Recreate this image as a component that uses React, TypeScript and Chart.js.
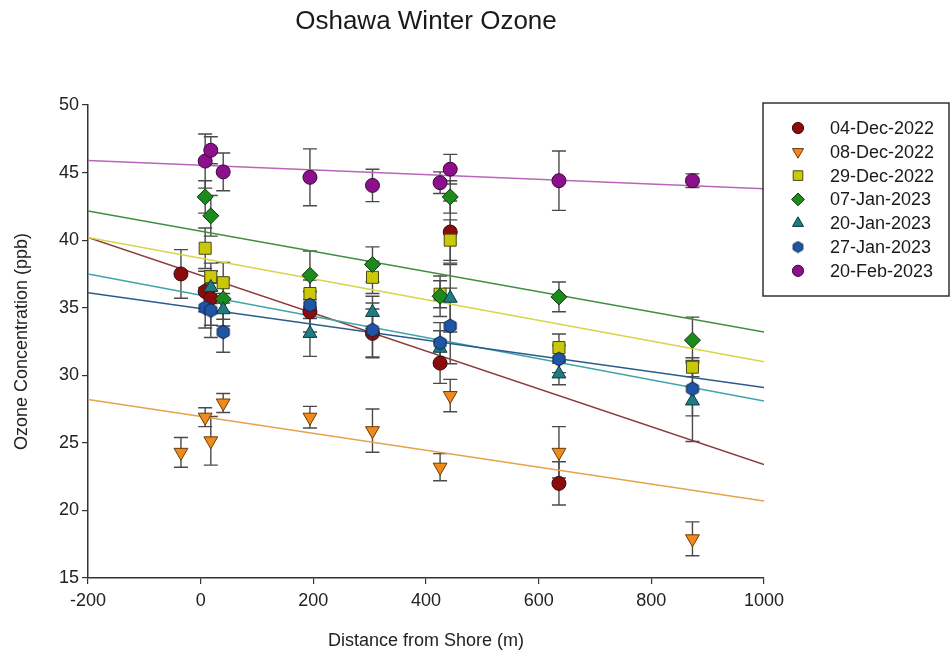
import React, { useEffect, useRef } from "react";
import { Chart, registerables } from "chart.js";
import { drawPoint } from "chart.js/helpers";

Chart.register(...registerables);

const FONT = "'Liberation Sans', Arial, Helvetica, sans-serif";

const chartTitle = "Oshawa Winter Ozone";
const xAxisTitle = "Distance from Shore (m)";
const yAxisTitle = "Ozone Concentration (ppb)";

const seriesLabels = [
  "04-Dec-2022",
  "08-Dec-2022",
  "29-Dec-2022",
  "07-Jan-2023",
  "20-Jan-2023",
  "27-Jan-2023",
  "20-Feb-2023",
];

// 04-Dec-2022
const dec04X = [-35, 8, 18, 194, 305, 425, 443, 636];
const dec04Y = [37.5, 36.2, 35.7, 34.7, 33.1, 30.9, 40.6, 22.0];
const dec04Err = [1.8, 1.5, 2.0, 1.5, 1.8, 1.5, 2.3, 1.6];

// 08-Dec-2022
const dec08X = [-35, 8, 18, 40, 194, 305, 425, 443, 636, 873];
const dec08Y = [24.3, 26.9, 25.15, 27.95, 26.9, 25.9, 23.2, 28.5, 24.3, 17.9];
const dec08Err = [1.1, 0.7, 1.8, 0.7, 0.8, 1.6, 1.0, 1.2, 1.9, 1.25];

// 29-Dec-2022
const dec29X = [8, 18, 40, 194, 305, 425, 443, 636, 873];
const dec29Y = [39.4, 37.3, 36.85, 36.05, 37.25, 36.0, 40.0, 32.05, 30.6];
const dec29Err = [1.5, 1.0, 1.5, 1.0, 1.2, 1.0, 1.5, 1.0, 0.7];

// 07-Jan-2023
const jan07X = [8, 18, 40, 194, 305, 425, 443, 636, 873];
const jan07Y = [43.2, 41.8, 35.65, 37.4, 38.2, 35.85, 43.2, 35.8, 32.6];
const jan07Err = [1.2, 1.5, 1.5, 1.8, 1.3, 1.5, 1.2, 1.1, 1.7];

// 20-Jan-2023
const jan20X = [18, 40, 194, 305, 425, 443, 636, 873];
const jan20Y = [36.5, 34.85, 33.1, 34.65, 32.0, 35.7, 30.1, 28.1];
const jan20Err = [1.2, 1.2, 1.7, 1.2, 1.3, 2.5, 0.8, 3.0];

// 27-Jan-2023
const jan27X = [8, 18, 40, 194, 305, 425, 443, 636, 873];
const jan27Y = [35.0, 34.8, 33.2, 35.2, 33.35, 32.4, 33.65, 31.2, 29.0];
const jan27Err = [1.5, 2.0, 1.5, 1.0, 2.0, 1.5, 2.8, 1.0, 2.0];

// 20-Feb-2023
const feb20X = [8, 18, 40, 194, 305, 425, 443, 636, 873];
const feb20Y = [45.85, 46.65, 45.05, 44.65, 44.05, 44.25, 45.25, 44.4, 44.4];
const feb20Err = [2.0, 1.0, 1.4, 2.1, 1.2, 0.8, 1.1, 2.2, 0.5];

// Linear trend lines (value at x = -200 and x = 1000)
const trendX = [-200, 1000];
const trendStart = [40.2, 28.2, 40.2, 42.15, 37.5, 36.1, 45.9];
const trendEnd = [23.4, 20.7, 31.0, 33.2, 28.1, 29.1, 43.8];

const xTicks = [-200, 0, 200, 400, 600, 800, 1000];
const yTicks = [15, 20, 25, 30, 35, 40, 45, 50];

const allX = [dec04X, dec08X, dec29X, jan07X, jan20X, jan27X, feb20X];
const allY = [dec04Y, dec08Y, dec29Y, jan07Y, jan20Y, jan27Y, feb20Y];
const allErr = [dec04Err, dec08Err, dec29Err, jan07Err, jan20Err, jan27Err, feb20Err];

const fillColors = ["#8a0c0c", "#f08a1c", "#c9c90a", "#1d8a1d", "#1f7c82", "#1f55a3", "#8c0f8c"];
const borderColors = ["#3a0a0a", "#6a3a08", "#4a4a10", "#0d3a0d", "#0d3a3e", "#0e2650", "#3a073a"];
const lineColors = ["#8e3b3b", "#e6a24c", "#d6d648", "#3f8f3f", "#3fa3aa", "#2c5a8c", "#b866b8"];
const pointStyles = ["circle", "triangle", "rect", "rectRot", "triangle", "hex", "circle"];
const pointRotations = [0, 180, 0, 0, 0, 0, 0];
const pointRadii = [7, 8, 8.5, 8, 8, 7, 7];

function makeHex(size: number, fill: string, stroke: string) {
  const c = document.createElement("canvas");
  c.width = size;
  c.height = size;
  const g = c.getContext("2d")!;
  const r = size / 2 - 1;
  g.beginPath();
  for (let k = 0; k < 6; k++) {
    const a = (Math.PI / 3) * k + Math.PI / 6;
    const px = size / 2 + r * Math.cos(a);
    const py = size / 2 + r * Math.sin(a);
    if (k === 0) g.moveTo(px, py);
    else g.lineTo(px, py);
  }
  g.closePath();
  g.fillStyle = fill;
  g.fill();
  g.strokeStyle = stroke;
  g.lineWidth = 1;
  g.stroke();
  return c;
}

const errorBarPlugin = {
  id: "errorBars",
  beforeDatasetsDraw(chart: any) {
    const ctx = chart.ctx;
    const xs = chart.scales.x;
    const ys = chart.scales.y;
    ctx.save();
    ctx.strokeStyle = "#4a4a4a";
    ctx.lineWidth = 1.4;
    chart.data.datasets.forEach((ds: any) => {
      if (!ds.errors) return;
      ds.data.forEach((p: any, j: number) => {
        const e = ds.errors[j];
        const px = xs.getPixelForValue(p.x);
        const top = ys.getPixelForValue(p.y + e);
        const bot = ys.getPixelForValue(p.y - e);
        ctx.beginPath();
        ctx.moveTo(px, top);
        ctx.lineTo(px, bot);
        ctx.moveTo(px - 7, top);
        ctx.lineTo(px + 7, top);
        ctx.moveTo(px - 7, bot);
        ctx.lineTo(px + 7, bot);
        ctx.stroke();
      });
    });
    ctx.restore();
  },
};

const titleLegendPlugin = {
  id: "titleLegend",
  afterDraw(chart: any) {
    const ctx = chart.ctx;
    const area = chart.chartArea;
    ctx.save();
    // title
    ctx.fillStyle = "#1a1a1a";
    ctx.font = `26px ${FONT}`;
    ctx.textAlign = "center";
    ctx.textBaseline = "middle";
    ctx.fillText(chartTitle, (area.left + area.right) / 2, 22);

    // legend box
    const bx = 763, by = 103, bw = 186, bh = 193;
    ctx.strokeStyle = "#333";
    ctx.lineWidth = 1.5;
    ctx.strokeRect(bx, by, bw, bh);
    ctx.font = `18px ${FONT}`;
    ctx.textAlign = "left";
    ctx.textBaseline = "middle";
    const scatterSets = chart.data.datasets.filter((d: any) => d.errors);
    scatterSets.forEach((ds: any, i: number) => {
      const cy = 128 + i * 23.8;
      ctx.fillStyle = ds.backgroundColor;
      ctx.strokeStyle = ds.borderColor;
      ctx.lineWidth = 1;
      drawPoint(
        ctx,
        {
          pointStyle: ds.legendStyle,
          rotation: ds.pointRotation,
          radius: ds.pointRadius * 0.8,
          borderWidth: 1,
        },
        798,
        cy
      );
      ctx.fillStyle = "#1a1a1a";
      ctx.fillText(ds.label, 830, cy + 1);
    });
    ctx.restore();
  },
};

export default function App() {
  const canvasRef = useRef<HTMLCanvasElement | null>(null);

  useEffect(() => {
    if (!canvasRef.current) return;

    const datasets: any[] = [];
    // trend lines (drawn underneath)
    seriesLabels.forEach((lab, i) => {
      datasets.push({
        type: "line",
        label: lab + " trend",
        data: [
          { x: trendX[0], y: trendStart[i] },
          { x: trendX[1], y: trendEnd[i] },
        ],
        borderColor: lineColors[i],
        borderWidth: 1.5,
        pointRadius: 0,
        fill: false,
        order: 1000 - i,
      });
    });
    seriesLabels.forEach((lab, i) => {
      const style =
        pointStyles[i] === "hex"
          ? makeHex(16, fillColors[i], borderColors[i])
          : pointStyles[i];
      const legendStyle =
        pointStyles[i] === "hex"
          ? makeHex(13, fillColors[i], borderColors[i])
          : pointStyles[i];
      datasets.push({
        type: "scatter",
        label: lab,
        data: allX[i].map((x, j) => ({ x, y: allY[i][j] })),
        errors: allErr[i],
        backgroundColor: fillColors[i],
        borderColor: borderColors[i],
        borderWidth: 1,
        pointStyle: style,
        legendStyle,
        pointRotation: pointRotations[i],
        pointRadius: pointRadii[i],
        pointHoverRadius: pointRadii[i],
        order: 100 - i,
      });
    });

    const chart = new Chart(canvasRef.current, {
      type: "scatter",
      data: { datasets },
      options: {
        animation: false,
        responsive: true,
        maintainAspectRatio: false,
        layout: { padding: { left: 0, top: 105, right: 188, bottom: 0 } },
        plugins: {
          legend: { display: false },
          title: { display: false },
          tooltip: { enabled: false },
        },
        scales: {
          x: {
            type: "linear",
            min: -200,
            max: 1000,
            afterFit: (s: any) => {
              s.height = 80;
            },
            afterBuildTicks: (s: any) => {
              s.ticks = xTicks.map((v) => ({ value: v }));
            },
            grid: {
              display: true,
              drawOnChartArea: false,
              drawTicks: true,
              tickLength: 6,
              color: "#333",
              lineWidth: 1.2,
            },
            border: { display: true, color: "#333", width: 1.5 },
            ticks: {
              color: "#222",
              font: { family: FONT, size: 18 },
              padding: 6,
              maxRotation: 0,
              callback: (v: any) => String(v),
            },
            title: {
              display: true,
              text: xAxisTitle,
              color: "#222",
              font: { family: FONT, size: 18 },
              padding: { top: 6, bottom: 6 },
            },
          },
          y: {
            type: "linear",
            min: 15,
            max: 50,
            afterFit: (s: any) => {
              s.width = 88;
            },
            afterBuildTicks: (s: any) => {
              s.ticks = yTicks.map((v) => ({ value: v }));
            },
            grid: {
              display: true,
              drawOnChartArea: false,
              drawTicks: true,
              tickLength: 6,
              color: "#333",
              lineWidth: 1.2,
            },
            border: { display: true, color: "#333", width: 1.5 },
            ticks: {
              color: "#222",
              font: { family: FONT, size: 18 },
              padding: 3,
              callback: (v: any) => String(v),
            },
            title: {
              display: true,
              text: yAxisTitle,
              color: "#222",
              font: { family: FONT, size: 18 },
              padding: { top: 11, bottom: 0 },
            },
          },
        },
      },
      plugins: [errorBarPlugin, titleLegendPlugin],
    } as any);

    return () => {
      chart.destroy();
    };
  }, []);

  return (
    <div
      style={{
        position: "absolute",
        left: 0,
        top: 0,
        width: 952,
        height: 658,
        background: "#fff",
      }}
    >
      <canvas ref={canvasRef} />
    </div>
  );
}
